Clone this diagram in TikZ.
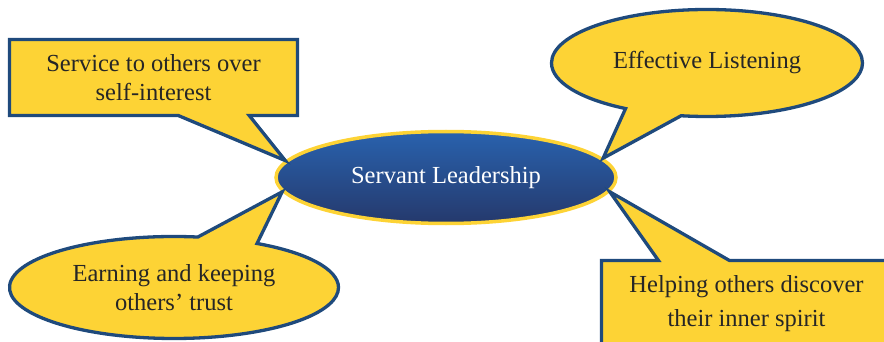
\documentclass[tikz,border=0pt]{standalone}
\usepackage{fontspec}
\setmainfont{Liberation Serif}
\usepackage{xcolor}
\usepackage{tikz}
\usetikzlibrary{shapes.geometric}
\usetikzlibrary{shapes.callouts}
\definecolor{dblue}{HTML}{1F4A7C}
\definecolor{gold}{HTML}{FDD335}
\definecolor{ltop}{HTML}{2962AE}
\definecolor{lmid}{HTML}{0F479F}
\definecolor{lbot}{HTML}{25396C}
\colorlet{inktext}{black!85}
\newcommand\bubblefont{\fontsize{24.5}{28.5}\selectfont}
\tikzstyle{lead}  =[ellipse,draw=gold,line width=3.5pt,top color=ltop,middle color=lmid,bottom color=lbot,
                    text=white,font=\bubblefont,inner sep=0pt]
\tikzstyle{cloud} =[ellipse callout,draw=dblue,fill=gold,line width=3.3pt,inner sep=0pt,
                    callout pointer arc=22,align=center,text=inktext,font=\bubblefont]
\tikzstyle{board} =[rectangle callout,draw=dblue,fill=gold,line width=3.3pt,inner sep=0pt,
                    callout pointer width=71pt,align=center,text=inktext,font=\bubblefont]

\begin{document}
\begin{tikzpicture}[x=1pt,y=-1pt]
	\clip (0,0) rectangle (884,342);
	\node[lead,minimum width=340pt,minimum height=92pt] (servant) at (446,177.5) {Servant Leadership};
	% four sayings round the middle
	\node[board,minimum width=288pt,minimum height=76pt,callout absolute pointer={(servant.174)}]
	  (service) at (153.5,77.5) {Service to others over\\self-interest};
	\node[cloud,minimum width=311pt,minimum height=107pt,callout absolute pointer={(servant.7)}]
	  (listen) at (707,63) {Effective Listening};
	\node[cloud,minimum width=329pt,minimum height=102pt,callout absolute pointer={(servant.185)}]
	  (trust) at (174,287.5) {Earning and keeping\\others’ trust};
	\node[board,minimum width=290pt,minimum height=86pt,callout absolute pointer={(servant.355)},
	  font=\fontsize{24.5}{31.5}\selectfont]
	  (spirit) at (746.5,303.5) {\raisebox{2pt}{Helping others discover}\\their inner spirit};
\end{tikzpicture}
\end{document}
